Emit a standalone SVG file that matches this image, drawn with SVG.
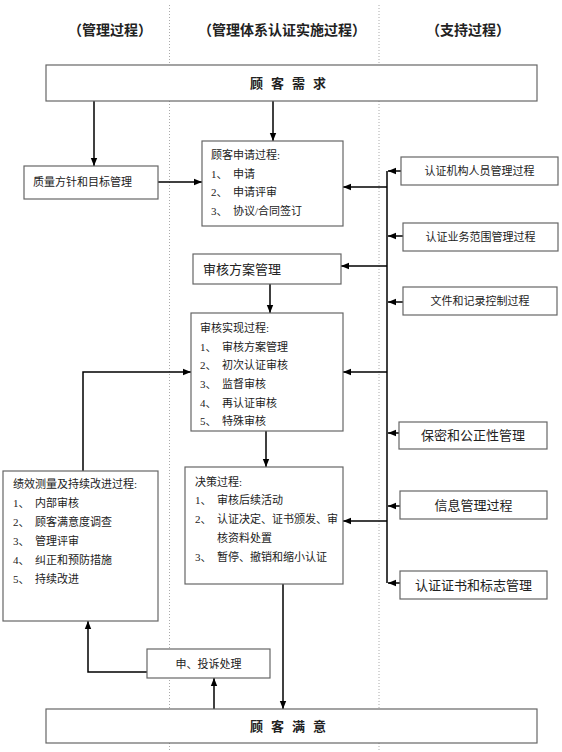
<svg xmlns="http://www.w3.org/2000/svg" width="562" height="752" viewBox="0 0 562 752">
<style>
text{font-family:"Liberation Serif","Noto Sans CJK SC",serif;fill:#222;dominant-baseline:central}
.hd{font-size:14px;font-weight:bold;text-anchor:middle}
.big{font-size:13px;font-weight:bold;letter-spacing:8px;text-anchor:middle}
.t{font-size:11px}
.m{font-size:13px}
.c{text-anchor:middle}
.box{fill:#fff;stroke:#666;stroke-width:1.2}
.ln{fill:none;stroke:#000;stroke-width:1.5}
.dot{stroke:#aaa;stroke-width:1;stroke-dasharray:1 2}
</style>
<defs>
<marker id="ah" markerWidth="8" markerHeight="8" refX="8" refY="4" orient="auto" markerUnits="userSpaceOnUse">
<path d="M0,0.8 L8,4 L0,7.2 Z" fill="#000"/>
</marker>
</defs>
<rect width="562" height="752" fill="#fff"/>
<g id="lanes">
<line class="dot" x1="169.5" y1="5" x2="169.5" y2="752"/>
<line class="dot" x1="379" y1="5" x2="379" y2="752"/>
<text class="hd" x="110" y="30">（管理过程）</text>
<text class="hd" x="282" y="30">（管理体系认证实施过程）</text>
<text class="hd" x="468" y="30">（支持过程）</text>
</g>
<g id="connectors">
<line class="ln" x1="94" y1="101" x2="94" y2="166" marker-end="url(#ah)"/>
<line class="ln" x1="273" y1="101" x2="273" y2="141" marker-end="url(#ah)"/>
<line class="ln" x1="158" y1="182" x2="202" y2="182" marker-end="url(#ah)"/>
<line class="ln" x1="387" y1="171" x2="387" y2="583"/>
<line class="ln" x1="401" y1="171" x2="388" y2="171" marker-end="url(#ah)"/>
<line class="ln" x1="403" y1="236" x2="388" y2="236" marker-end="url(#ah)"/>
<line class="ln" x1="403" y1="302" x2="388" y2="302" marker-end="url(#ah)"/>
<line class="ln" x1="399" y1="433" x2="388" y2="433" marker-end="url(#ah)"/>
<line class="ln" x1="400" y1="506" x2="388" y2="506" marker-end="url(#ah)"/>
<line class="ln" x1="400" y1="583" x2="388" y2="583" marker-end="url(#ah)"/>
<line class="ln" x1="387" y1="187" x2="343" y2="187" marker-end="url(#ah)"/>
<line class="ln" x1="387" y1="266" x2="341" y2="266" marker-end="url(#ah)"/>
<line class="ln" x1="387" y1="372" x2="343" y2="372" marker-end="url(#ah)"/>
<line class="ln" x1="387" y1="521" x2="343" y2="521" marker-end="url(#ah)"/>
<line class="ln" x1="270" y1="284" x2="270" y2="313" marker-end="url(#ah)"/>
<line class="ln" x1="266" y1="431" x2="266" y2="467" marker-end="url(#ah)"/>
<polyline class="ln" points="83,471 83,372 191,372" marker-end="url(#ah)"/>
<line class="ln" x1="283" y1="584" x2="283" y2="709" marker-end="url(#ah)"/>
<line class="ln" x1="214" y1="709" x2="214" y2="678" marker-end="url(#ah)"/>
<polyline class="ln" points="147,672 88,672 88,621" marker-end="url(#ah)"/>
</g>
<g id="demand">
<rect class="box" x="46" y="65" width="491" height="36"/>
<text class="big" x="292" y="83">顾客需求</text>
</g>
<g id="policy">
<rect class="box" x="24" y="166" width="134" height="33"/>
<text class="t" x="33" y="182">质量方针和目标管理</text>
</g>
<g id="application">
<rect class="box" x="202" y="141" width="141" height="85"/>
<text class="t" x="211" y="155">顾客申请过程:</text>
<text class="t" x="211" y="174">1、</text><text class="t" x="233" y="174">申请</text>
<text class="t" x="211" y="192">2、</text><text class="t" x="233" y="192">申请评审</text>
<text class="t" x="211" y="211">3、</text><text class="t" x="233" y="211">协议/合同签订</text>
</g>
<g id="program">
<rect class="box" x="193" y="254" width="148" height="30"/>
<text class="m" x="203" y="269">审核方案管理</text>
</g>
<g id="audit">
<rect class="box" x="191" y="313" width="152" height="118"/>
<text class="t" x="200" y="328">审核实现过程:</text>
<text class="t" x="200" y="347">1、</text><text class="t" x="222" y="347">审核方案管理</text>
<text class="t" x="200" y="365">2、</text><text class="t" x="222" y="365">初次认证审核</text>
<text class="t" x="200" y="384">3、</text><text class="t" x="222" y="384">监督审核</text>
<text class="t" x="200" y="403">4、</text><text class="t" x="222" y="403">再认证审核</text>
<text class="t" x="200" y="421">5、</text><text class="t" x="222" y="421">特殊审核</text>
</g>
<g id="decision">
<rect class="box" x="185" y="467" width="158" height="117"/>
<text class="t" x="195" y="482">决策过程:</text>
<text class="t" x="195" y="500">1、</text><text class="t" x="217" y="500">审核后续活动</text>
<text class="t" x="195" y="519">2、</text><text class="t" x="217" y="519">认证决定、证书颁发、审</text>
<text class="t" x="217" y="538">核资料处置</text>
<text class="t" x="195" y="557">3、</text><text class="t" x="217" y="557">暂停、撤销和缩小认证</text>
</g>
<g id="improve">
<rect class="box" x="3" y="471" width="155" height="150"/>
<text class="t" x="13" y="484">绩效测量及持续改进过程:</text>
<text class="t" x="13" y="503">1、</text><text class="t" x="35" y="503">内部审核</text>
<text class="t" x="13" y="522">2、</text><text class="t" x="35" y="522">顾客满意度调查</text>
<text class="t" x="13" y="541">3、</text><text class="t" x="35" y="541">管理评审</text>
<text class="t" x="13" y="560">4、</text><text class="t" x="35" y="560">纠正和预防措施</text>
<text class="t" x="13" y="579">5、</text><text class="t" x="35" y="579">持续改进</text>
</g>
<g id="complaint">
<rect class="box" x="147" y="649" width="123" height="29"/>
<text class="t c" x="208.5" y="664">申、投诉处理</text>
</g>
<g id="satisfaction">
<rect class="box" x="46" y="709" width="491" height="34"/>
<text class="big" x="292" y="726">顾客满意</text>
</g>
<g id="personnel">
<rect class="box" x="401" y="157" width="157" height="28"/>
<text class="t c" x="479.5" y="171">认证机构人员管理过程</text>
</g>
<g id="scope">
<rect class="box" x="403" y="223" width="155" height="28"/>
<text class="t c" x="480.5" y="237">认证业务范围管理过程</text>
</g>
<g id="documents">
<rect class="box" x="403" y="287" width="154" height="28"/>
<text class="t c" x="480" y="301">文件和记录控制过程</text>
</g>
<g id="confidentiality">
<rect class="box" x="399" y="422" width="148" height="27"/>
<text class="m c" x="473" y="435.5">保密和公正性管理</text>
</g>
<g id="information">
<rect class="box" x="400" y="491" width="147" height="28"/>
<text class="m c" x="473.5" y="505">信息管理过程</text>
</g>
<g id="certificate">
<rect class="box" x="400" y="571" width="147" height="28"/>
<text class="m c" x="473.5" y="585">认证证书和标志管理</text>
</g>
</svg>
